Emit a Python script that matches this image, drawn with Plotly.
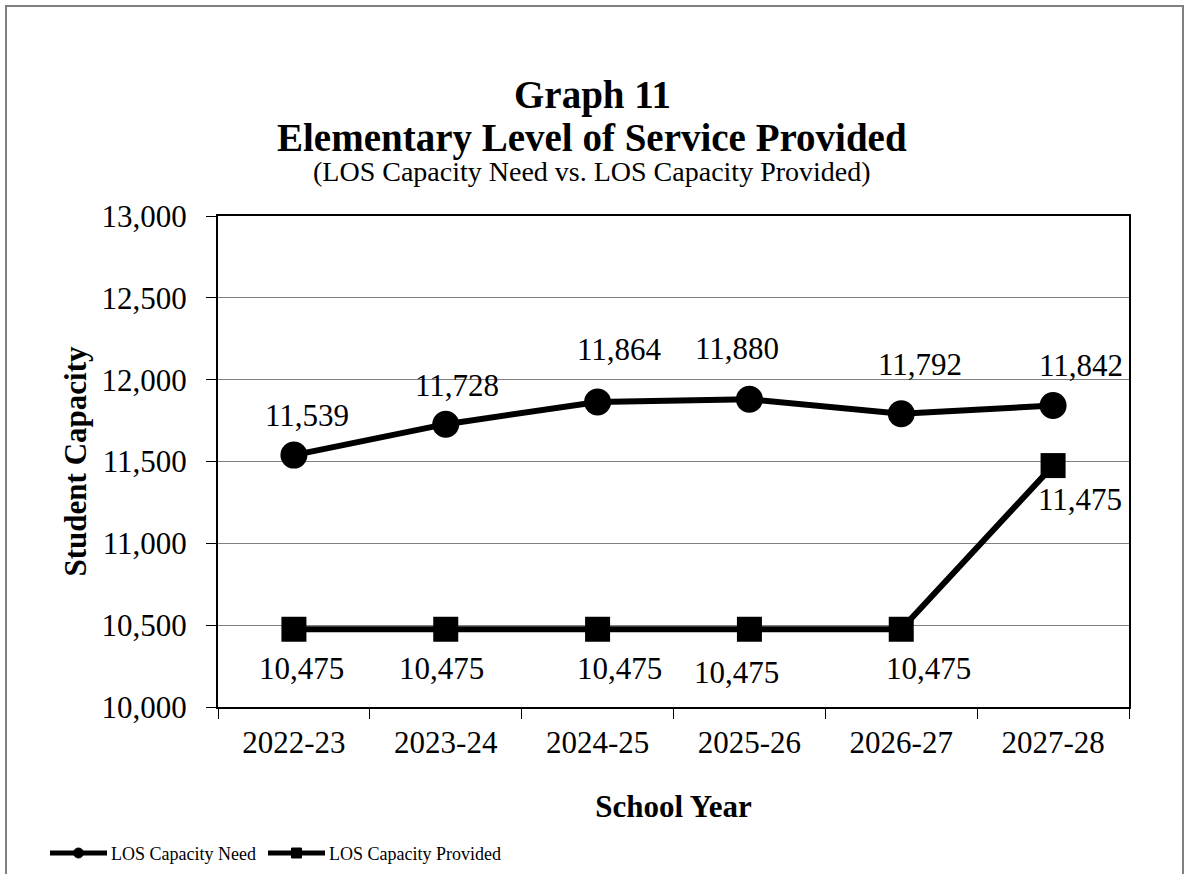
import plotly.graph_objects as go

# School years on the category axis
years = ["2022-23", "2023-24", "2024-25", "2025-26", "2026-27", "2027-28"]

# Level-of-service capacity series
los_need = [11539, 11728, 11864, 11880, 11792, 11842]
los_provided = [10475, 10475, 10475, 10475, 10475, 11475]
series_names = ["LOS Capacity Need", "LOS Capacity Provided"]

# Y-axis tick values
y_ticks = [10000, 10500, 11000, 11500, 12000, 12500, 13000]

# Pixel nudges for the value labels (x, y)
need_label_shift = [(13, 40), (11, 39), (22, 52), (-12, 51), (19, 49), (28, 40)]
prov_label_shift = [(8, -39), (-4, -39), (22, -39), (-13, -43), (27, -39), (27, -34)]

SERIF = "Liberation Serif, Times New Roman, serif"

W, H = 1184, 874
L, R, T, B = 218, 55, 216, 167
pw, ph = W - L - R, H - T - B


def px_x(x):
    return (x - L) / pw


def px_y(y):
    return (H - B - y) / ph


fig = go.Figure()
fig.add_trace(go.Scatter(
    x=years, y=los_need, name=series_names[0], mode="lines+markers",
    line=dict(color="black", width=6),
    marker=dict(symbol="circle", size=27, color="black"),
))
fig.add_trace(go.Scatter(
    x=years, y=los_provided, name=series_names[1], mode="lines+markers",
    line=dict(color="black", width=6),
    marker=dict(symbol="square", size=25, color="black"),
))

annotations = []
for yr, v, (dx, dy) in zip(years, los_need, need_label_shift):
    annotations.append(dict(x=yr, y=v, xref="x", yref="y", text=f"{v:,}",
                            showarrow=False, xshift=dx, yshift=dy,
                            font=dict(family=SERIF, size=31, color="black")))
for yr, v, (dx, dy) in zip(years, los_provided, prov_label_shift):
    annotations.append(dict(x=yr, y=v, xref="x", yref="y", text=f"{v:,}",
                            showarrow=False, xshift=dx, yshift=dy,
                            font=dict(family=SERIF, size=31, color="black")))

# Title block (page-pixel centres)
for text, y, size in [("<b>Graph 11</b>", 95, 39),
                      ("<b>Elementary Level of Service Provided</b>", 138, 39),
                      ("(LOS Capacity Need vs. LOS Capacity Provided)", 171, 28)]:
    annotations.append(dict(text=text, x=px_x(592), y=px_y(y), xref="paper", yref="paper",
                            xanchor="center", yanchor="middle", showarrow=False,
                            font=dict(family=SERIF, size=size, color="black")))

shapes = [dict(type="rect", xref="paper", yref="paper",
               x0=px_x(6), x1=px_x(1183), y0=px_y(900), y1=px_y(6),
               line=dict(color="#808080", width=2), layer="below")]

# Legend drawn along the bottom: line sample, marker, label
legend_y = 853
legend_items = [(50, 107, "circle", series_names[0]),
                (268, 325, "square", series_names[1])]
for x0, x1, sym, name in legend_items:
    shapes.append(dict(type="line", xref="paper", yref="paper",
                       x0=px_x(x0), x1=px_x(x1), y0=px_y(legend_y), y1=px_y(legend_y),
                       line=dict(color="black", width=5)))
    cx = (x0 + x1) / 2
    r = 5
    shapes.append(dict(type="circle" if sym == "circle" else "rect",
                       xref="paper", yref="paper",
                       x0=px_x(cx - r), x1=px_x(cx + r),
                       y0=px_y(legend_y + r), y1=px_y(legend_y - r),
                       fillcolor="black", line=dict(color="black", width=1)))
    annotations.append(dict(text=name, x=px_x(x1 + 2), y=px_y(legend_y + 1),
                            xref="paper", yref="paper", xanchor="left", yanchor="middle",
                            showarrow=False,
                            font=dict(family=SERIF, size=18, color="black")))

fig.update_layout(
    width=W, height=H,
    margin=dict(l=L, r=R, t=T, b=B, autoexpand=False),
    paper_bgcolor="white", plot_bgcolor="white",
    font=dict(family=SERIF, color="black"),
    annotations=annotations,
    shapes=shapes,
    showlegend=False,
)

fig.update_xaxes(
    type="category", range=[-0.5, 5.5], automargin=False,
    tickson="boundaries", ticks="outside", ticklen=10, tickwidth=1, tickcolor="black",
    ticklabelstandoff=7,
    showline=True, linecolor="black", linewidth=2, mirror=True,
    showgrid=False,
    tickfont=dict(family=SERIF, size=31, color="black"),
    title=dict(text="<b>School Year</b>", font=dict(family=SERIF, size=31, color="black"),
               standoff=36),
)
fig.update_yaxes(
    range=[10000, 13000], tickvals=y_ticks, tickformat=",d", automargin=False,
    ticks="outside", ticklen=10, tickwidth=1, tickcolor="black",
    ticklabelstandoff=13,
    showline=True, linecolor="black", linewidth=2, mirror=True,
    showgrid=True, gridcolor="#808080", gridwidth=1,
    zeroline=False,
    tickfont=dict(family=SERIF, size=31, color="black"),
    title=dict(text="<b>Student Capacity</b>", font=dict(family=SERIF, size=31, color="black"),
               standoff=6),
)

fig.write_html("out.html")
